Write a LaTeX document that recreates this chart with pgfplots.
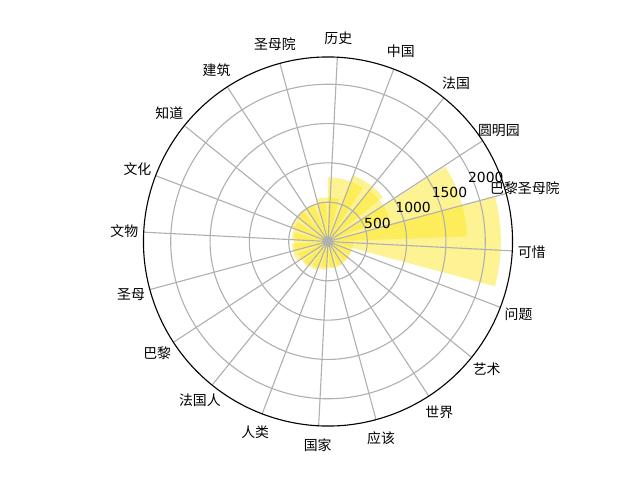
\documentclass[border=0pt]{standalone}
\usepackage{pgfplots}
\pgfplotsset{compat=1.18}
\usepgfplotslibrary{polar}
\usepackage{fontspec}
\setmainfont{DejaVu Sans}
\newfontfamily\cjk{Noto Sans CJK SC}
\definecolor{barY}{HTML}{FDE725}
\definecolor{gridG}{HTML}{B0B0B0}
% polar bar: #1 centre angle (deg), #2 width (deg), #3 value
\newcommand{\polarbar}[3]{%
  \pgfmathsetmacro\aA{#1-#2/2}%
  \pgfmathsetmacro\aB{#1-3*#2/8}%
  \pgfmathsetmacro\aC{#1-#2/4}%
  \pgfmathsetmacro\aD{#1-#2/8}%
  \pgfmathsetmacro\aE{#1}%
  \pgfmathsetmacro\aF{#1+#2/8}%
  \pgfmathsetmacro\aG{#1+#2/4}%
  \pgfmathsetmacro\aH{#1+3*#2/8}%
  \pgfmathsetmacro\aI{#1+#2/2}%
  \edef\temp{\noexpand\addplot[draw=none, fill=barY, fill opacity=0.5, forget plot]
    coordinates {(0,0) (\aA,#3) (\aB,#3) (\aC,#3) (\aD,#3) (\aE,#3) (\aF,#3) (\aG,#3) (\aH,#3) (\aI,#3) (0,0)};}%
  \temp}
\begin{document}
\begin{tikzpicture}
\path[use as bounding box] (-236.16pt,-171.72pt) rectangle (224.64pt,173.88pt);
\begin{polaraxis}[
  at={(0,0)}, anchor=center,
  scale only axis, width=265.7pt, height=265.7pt,
  xmin=22.5, xmax=382.5, ymin=0, ymax=2347,
  xtick={33.1,51.1,69.1,87.1,105.1,123.1,141.1,159.1,177.1,195.1,213.1,231.1,249.1,267.1,285.1,303.1,321.1,339.1,357.1,375.1},
  xticklabels={圆明园,法国,中国,历史,圣母院,建筑,知道,文化,文物,圣母,巴黎,法国人,人类,国家,应该,世界,艺术,问题,可惜,巴黎圣母院},
  ytick={500,1000,1500,2000},
  grid=major,
  major grid style={draw=gridG, line width=0.8pt},
  x axis line style={black, line width=0.8pt},
  y axis line style={draw=none},
  tick style={draw=none},
  xticklabel style={font=\cjk\fontsize{10}{12}\selectfont, anchor=center,
     xshift={14*cos(\tick)}, yshift={14*sin(\tick)}},
  yticklabel style={font=\fontsize{10}{12}\selectfont, xshift=14pt, yshift=-9pt},
  /pgf/number format/assume math mode=true,
  /pgf/number format/1000 sep={},
  axis on top=true,
]
\polarbar{0}{30}{2200}
\polarbar{17.3}{30.5}{1770}
\polarbar{36}{30}{840}
\polarbar{54}{30}{900}
\polarbar{73.5}{33}{815}
\polarbar{90}{30}{560}
\polarbar{108}{30}{500}
\polarbar{126}{30}{500}
\polarbar{144}{30}{490}
\polarbar{162}{30}{460}
\polarbar{180}{30}{430}
\polarbar{198}{30}{460}
\polarbar{216}{30}{410}
\polarbar{234}{30}{390}
\polarbar{252}{30}{360}
\polarbar{270}{30}{330}
\polarbar{288}{30}{340}
\polarbar{306}{30}{330}
\polarbar{324}{30}{320}
\polarbar{342}{30}{320}
\end{polaraxis}
\end{tikzpicture}
\end{document}
